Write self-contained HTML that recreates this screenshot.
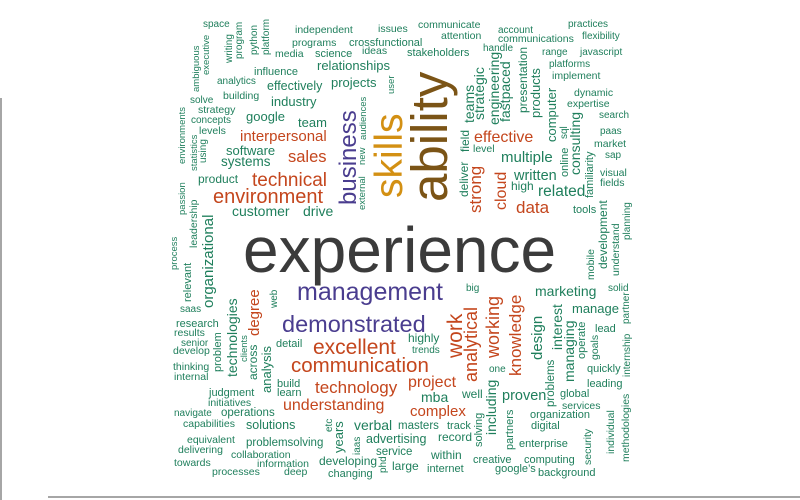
<!DOCTYPE html>
<html><head><meta charset="utf-8">
<style>
html,body{margin:0;padding:0;background:#fff;}
svg{display:block;font-family:"Liberation Sans",Arial,sans-serif;}
</style></head>
<body>
<svg id="cloud" width="800" height="500" viewBox="0 0 800 500">
<line x1="1" y1="98" x2="1" y2="500" stroke="#888" stroke-width="1.5"/>
<line x1="48" y1="497" x2="800" y2="497" stroke="#888" stroke-width="1.5"/>
<g id="words"></g>
</svg>
<script>
const palette = {g:'#1f7f5c', r:'#c4461d', p:'#4a3d8f', y:'#d39013', b:'#7b5416', k:'#3b3b3b'};
// [word, x, y(baseline), font size, color, vertical]
const words = [
["experience",243,272,64,'k',0],
["ability",447,202,51,'b',1],
["skills",402,198,39,'y',1],
["business",356,205,24,'p',1],
["management",297,300,25,'p',0],
["demonstrated",282,332,23.5,'p',0],
["excellent",313,354,21,'r',0],
["communication",291,372,20.5,'r',0],
["technology",315,393,17,'r',0],
["understanding",283,410,16,'r',0],
["environment",213,203,20,'r',0],
["technical",252,186,19,'r',0],
["interpersonal",240,141,15,'r',0],
["sales",288,162,16.5,'r',0],
["effective",474,142,16,'r',0],
["data",516,213,17,'r',0],
["strong",481,213,17,'r',1],
["cloud",506,210,16,'r',1],
["work",462,358,21,'r',1],
["analytical",477,382,18,'r',1],
["working",499,358,18,'r',1],
["knowledge",521,376,17,'r',1],
["project",408,387,16,'r',0],
["complex",410,416,15,'r',0],
["degree",259,336,15,'r',1],
["space",203,27,10,'g',0],
["ambiguous",199,92,9.5,'g',1],
["executive",209,75,9.5,'g',1],
["writing",232,63,10,'g',1],
["program",242,59,10,'g',1],
["python",257,55,10,'g',1],
["platform",269,55,10,'g',1],
["independent",295,33,10.5,'g',0],
["issues",378,32,10.5,'g',0],
["programs",292,46,10.5,'g',0],
["crossfunctional",349,46,11,'g',0],
["media",275,57,10.5,'g',0],
["science",315,57,11,'g',0],
["ideas",362,54,10.5,'g',0],
["stakeholders",407,56,11,'g',0],
["relationships",317,70,13,'g',0],
["influence",254,75,11,'g',0],
["analytics",217,84,10,'g',0],
["effectively",267,90,12.5,'g',0],
["projects",331,87,13,'g',0],
["user",394,94,9.5,'g',1],
["solve",190,103,10,'g',0],
["building",223,99,10.5,'g',0],
["industry",271,106,13,'g',0],
["environments",185,164,9.5,'g',1],
["strategy",198,113,10.5,'g',0],
["concepts",191,123,10,'g',0],
["google",246,121,13,'g',0],
["team",298,127,13,'g',0],
["levels",199,134,10.5,'g',0],
["statistics",197,171,9.5,'g',1],
["using",206,163,10,'g',1],
["software",226,155,13,'g',0],
["systems",221,166,13.5,'g',0],
["external",365,210,9.5,'g',1],
["new",365,165,9.5,'g',1],
["audiences",366,140,9.5,'g',1],
["product",198,183,12,'g',0],
["customer",232,216,14,'g',0],
["drive",303,216,14,'g',0],
["passion",185,215,9.5,'g',1],
["leadership",197,248,10.5,'g',1],
["organizational",213,308,15,'g',1],
["process",177,270,9.5,'g',1],
["relevant",191,302,11,'g',1],
["saas",180,312,10,'g',0],
["research",176,327,11,'g',0],
["results",174,336,10.5,'g',0],
["senior",181,346,10,'g',0],
["develop",173,354,10.5,'g',0],
["problem",221,372,11,'g',1],
["technologies",237,377,14,'g',1],
["clients",247,362,9.5,'g',1],
["across",257,380,12,'g',1],
["analysis",271,393,13,'g',1],
["web",277,308,10,'g',1],
["thinking",173,370,10.5,'g',0],
["internal",174,380,10.5,'g',0],
["detail",276,347,11,'g',0],
["build",277,387,11,'g',0],
["learn",277,396,11,'g',0],
["judgment",209,396,11,'g',0],
["initiatives",208,406,10.5,'g',0],
["navigate",174,416,10,'g',0],
["operations",221,416,11.5,'g',0],
["capabilities",183,427,10.5,'g',0],
["solutions",246,429,12.5,'g',0],
["etc",332,432,10,'g',1],
["years",343,453,13,'g',1],
["iaas",360,455,10,'g',1],
["verbal",354,430,14,'g',0],
["equivalent",187,443,10.5,'g',0],
["problemsolving",246,446,11.5,'g',0],
["delivering",178,453,10.5,'g',0],
["collaboration",231,458,10.5,'g',0],
["towards",174,466,10.5,'g',0],
["information",257,467,10.5,'g',0],
["developing",319,465,12,'g',0],
["phd",386,473,10,'g',1],
["processes",212,475,10.5,'g',0],
["deep",284,475,10.5,'g',0],
["changing",328,477,11,'g',0],
["advertising",366,443,12.5,'g',0],
["service",376,455,11.5,'g',0],
["large",392,470,12,'g',0],
["masters",398,429,11.5,'g',0],
["big",466,291,10,'g',0],
["marketing",535,296,14,'g',0],
["solid",608,291,10,'g',0],
["mobile",594,280,10.5,'g',1],
["development",607,269,12,'g',1],
["understand",619,276,10.5,'g',1],
["planning",630,240,10,'g',1],
["partner",629,324,10,'g',1],
["manage",572,313,13,'g',0],
["lead",595,332,11,'g',0],
["internship",630,377,10,'g',1],
["design",542,360,15,'g',1],
["interest",562,350,14,'g',1],
["managing",574,382,14,'g',1],
["operate",585,359,11,'g',1],
["goals",598,360,10.5,'g',1],
["highly",408,342,12,'g',0],
["trends",412,353,10,'g',0],
["one",489,372,10,'g',0],
["quickly",587,372,11,'g',0],
["leading",587,387,11,'g',0],
["mba",421,402,14,'g',0],
["well",462,398,12,'g',0],
["including",496,435,14,'g',1],
["proven",502,400,14.5,'g',0],
["problems",554,407,11.5,'g',1],
["global",560,397,11,'g',0],
["services",562,409,10.5,'g',0],
["organization",530,418,11,'g',0],
["track",447,429,11,'g',0],
["solving",482,447,11,'g',1],
["partners",513,450,11,'g',1],
["digital",531,429,11,'g',0],
["record",438,441,12,'g',0],
["enterprise",519,447,11,'g',0],
["security",591,465,10.5,'g',1],
["individual",614,454,10.5,'g',1],
["methodologies",629,462,10.5,'g',1],
["within",431,459,12,'g',0],
["creative",473,463,11,'g',0],
["computing",524,463,11,'g',0],
["internet",427,472,11,'g',0],
["google’s",495,472,11,'g',0],
["background",538,476,11,'g',0],
["communicate",418,28,10.5,'g',0],
["attention",441,39,10.5,'g',0],
["account",498,33,10,'g',0],
["communications",498,42,10.5,'g',0],
["handle",483,51,10,'g',0],
["practices",568,27,10,'g',0],
["flexibility",582,39,10,'g',0],
["range",542,55,10,'g',0],
["javascript",580,55,10,'g',0],
["platforms",549,67,10,'g',0],
["implement",552,79,10.5,'g',0],
["dynamic",574,96,10.5,'g',0],
["expertise",567,107,10.5,'g',0],
["search",599,118,10,'g',0],
["paas",600,134,10,'g',0],
["market",594,147,10.5,'g',0],
["sap",605,158,10,'g',0],
["visual",600,176,10.5,'g',0],
["fields",600,186,10.5,'g',0],
["tools",573,213,11,'g',0],
["teams",474,123,14,'g',1],
["strategic",484,120,14,'g',1],
["engineering",499,125,14,'g',1],
["fastpaced",510,122,14,'g',1],
["presentation",527,113,12,'g',1],
["products",540,118,13,'g',1],
["computer",556,142,13,'g',1],
["sql",567,139,10,'g',1],
["online",568,177,11,'g',1],
["consulting",580,175,14,'g',1],
["familiarity",593,198,11,'g',1],
["field",469,152,12,'g',1],
["level",473,152,10.5,'g',0],
["multiple",501,162,15,'g',0],
["deliver",468,197,12,'g',1],
["written",514,180,14.5,'g',0],
["high",511,190,12,'g',0],
["related",538,196,15.5,'g',0]
];
const g = document.getElementById('words');
const NS = 'http://www.w3.org/2000/svg';
words.forEach(w => {
  const t = document.createElementNS(NS, 'text');
  t.setAttribute('x', w[1]);
  t.setAttribute('y', w[2]);
  t.setAttribute('font-size', w[3]);
  t.setAttribute('fill', palette[w[4]]);
  if (w[5]) t.setAttribute('transform', 'rotate(-90 ' + w[1] + ' ' + w[2] + ')');
  t.textContent = w[0];
  
  
  g.appendChild(t);
});
</script>
</body></html>
